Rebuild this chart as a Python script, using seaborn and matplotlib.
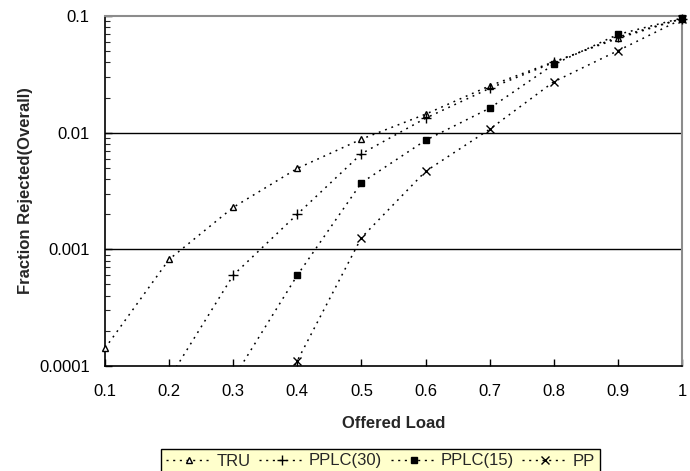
import numpy as np
import pandas as pd
import matplotlib
matplotlib.use("Agg")
import matplotlib.pyplot as plt
from matplotlib.ticker import FixedLocator, FuncFormatter, LogLocator, NullFormatter
from matplotlib.lines import Line2D
import seaborn as sns

load = [0.1, 0.2, 0.3, 0.4, 0.5, 0.6, 0.7, 0.8, 0.9, 1.0]
tru = [1.42e-4, 8.2e-4, 2.29e-3, 4.94e-3, 8.8e-3, 0.0144, 0.0252, 0.0405, 0.0643, 0.095]
pplc30 = [np.nan, 7.8e-5, 6.0e-4, 2.0e-3, 6.6e-3, 0.0133, 0.0240, 0.0400, 0.066, 0.095]
pplc15 = [np.nan, np.nan, 7.8e-5, 6.0e-4, 3.72e-3, 8.6e-3, 0.0162, 0.0385, 0.0695, 0.096]
pp = [np.nan, np.nan, 1.0e-5, 1.11e-4, 1.26e-3, 4.66e-3, 0.0107, 0.0273, 0.0504, 0.094]

series_names = ["TRU", "PPLC(30)", "PPLC(15)", "PP"]
series_vals = [tru, pplc30, pplc15, pp]
x_ticks = [0.1, 0.2, 0.3, 0.4, 0.5, 0.6, 0.7, 0.8, 0.9, 1.0]
y_ticks = [0.0001, 0.001, 0.01, 0.1]

sns.set_style("ticks")
plt.rcParams["font.family"] = ["Liberation Sans", "DejaVu Sans"]

markers = {"TRU": dict(marker="^", mfc="white", ms=5, mew=1.0),
           "PPLC(30)": dict(marker="+", mfc="black", ms=7, mew=1.0),
           "PPLC(15)": dict(marker="s", mfc="black", ms=5, mew=1.0),
           "PP": dict(marker="x", mfc="black", ms=6, mew=1.0)}

df = pd.concat([pd.DataFrame({"load": load, "value": v, "series": n})
                for n, v in zip(series_names, series_vals)], ignore_index=True)
df = df.dropna()

fig = plt.figure(figsize=(6.9, 4.71), dpi=100)
ax = fig.add_axes([105/690, 1-366/471, (682-105)/690, (366-16)/471])
ax.set_yscale("log")

dots = (0, (1.2, 3.2))
for n in series_names:
    sub = df[df["series"] == n]
    sns.lineplot(data=sub, x="load", y="value", ax=ax, color="black",
                 linewidth=1.1, linestyle=dots, legend=False, estimator=None, sort=True)
    inr = sub[(sub["value"] >= 1e-4) & (sub["value"] <= 0.1)]
    m = markers[n]
    ax.plot(inr["load"], inr["value"], linestyle="none", color="black",
            marker=m["marker"], markerfacecolor=m["mfc"], markeredgecolor="black",
            markersize=m["ms"], markeredgewidth=m["mew"], clip_on=False, zorder=5)

ax.set_xlim(0.1, 1.0)
ax.set_ylim(1e-4, 0.1)
ax.xaxis.set_major_locator(FixedLocator(x_ticks))
ax.xaxis.set_major_formatter(FuncFormatter(lambda v, p: f"{v:g}"))
ax.yaxis.set_major_locator(FixedLocator(y_ticks))
ax.yaxis.set_major_formatter(FuncFormatter(lambda v, p: f"{v:g}"))
ax.yaxis.set_minor_locator(LogLocator(base=10, subs=np.arange(2, 10), numticks=20))
ax.yaxis.set_minor_formatter(NullFormatter())

for yv in [0.001, 0.01]:
    ax.axhline(yv, color="black", linewidth=1.0, zorder=1)

ax.tick_params(axis="both", which="major", direction="in", length=5, width=1,
               labelsize=12, colors="black")
ax.tick_params(axis="x", which="major", pad=13)
ax.tick_params(axis="y", which="major", pad=11)
ax.tick_params(axis="y", which="minor", direction="in", length=3.5, width=0.8)
ax.tick_params(axis="x", which="minor", bottom=False)

for s in ["left", "bottom"]:
    ax.spines[s].set_color("black")
    ax.spines[s].set_linewidth(1.2)
for s in ["top", "right"]:
    ax.spines[s].set_visible(True)
    ax.spines[s].set_color("#8c8c8c")
    ax.spines[s].set_linewidth(1.5)

ax.set_xlabel("Offered Load", fontsize=12, fontweight="bold", labelpad=12)
ax.set_ylabel("Fraction Rejected(Overall)", fontsize=12, fontweight="bold", labelpad=4)

handles = []
for n in series_names:
    m = markers[n]
    handles.append(Line2D([0], [0], color="black", linestyle=(0, (1.5, 3.3)), linewidth=1.0,
                          marker=m["marker"], markerfacecolor=m["mfc"],
                          markeredgecolor="black", markersize=m["ms"] - 0.5,
                          markeredgewidth=m["mew"]))
leg = fig.legend(handles, series_names, loc="center", bbox_to_anchor=(380.5/690, 1-461/471),
                 ncol=4, frameon=True, fancybox=False, fontsize=12,
                 handlelength=2.76, handletextpad=0.25, columnspacing=0.5,
                 borderpad=0.3, borderaxespad=0)
leg.get_frame().set_facecolor("#FFFFCC")
leg.get_frame().set_edgecolor("black")
leg.get_frame().set_linewidth(1.0)
leg.get_frame().set_alpha(1)

fig.savefig("out.png", dpi=100)
